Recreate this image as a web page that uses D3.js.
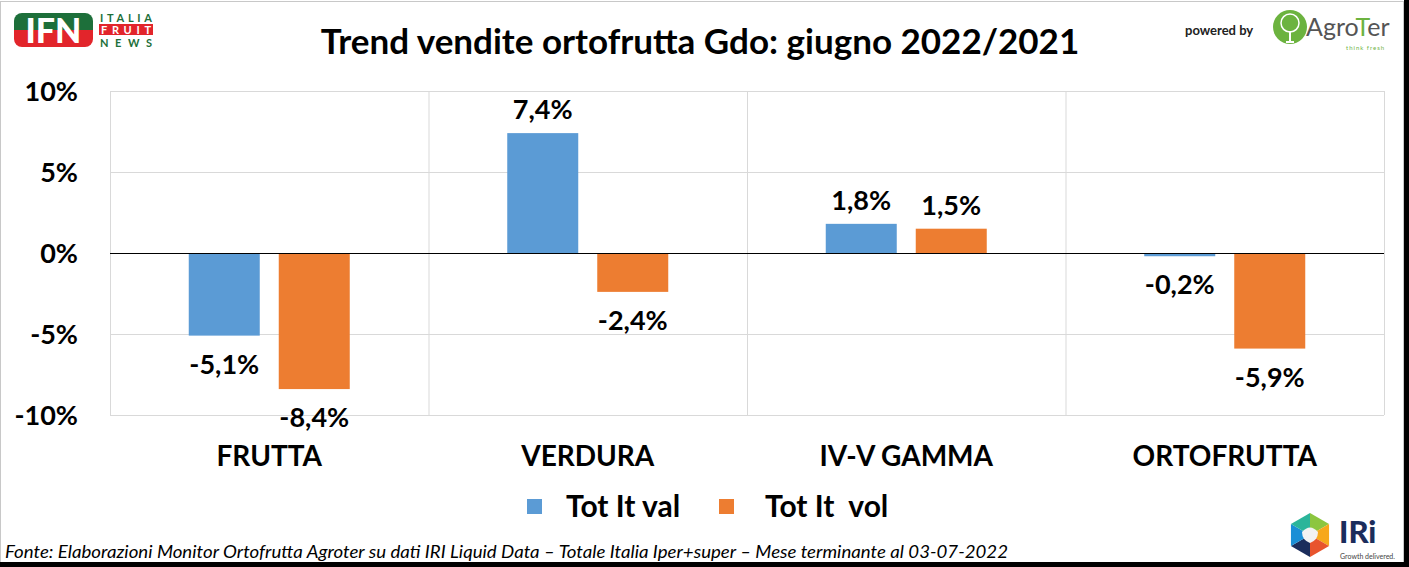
<!DOCTYPE html>
<meta charset="utf-8">
<script src="https://d3js.org/d3.v7.min.js"></script>
<style>
  body { margin: 0; background: #fff; }
  text { font-family: Lato, "Open Sans", sans-serif; }
</style>
<div id="chart"></div>
<script>
    // data
    const categories = ["FRUTTA", "VERDURA", "IV-V GAMMA", "ORTOFRUTTA"];
    const seriesNames = ["Tot It val", "Tot It  vol"];
    const totVal = [-5.1, 7.4, 1.8, -0.2];
    const totVol = [-8.4, -2.4, 1.5, -5.9];
    const yTicks = [-10, -5, 0, 5, 10];
    const colors = ["#5b9bd5", "#ed7d31"];

    const width = 1409, height = 567;
    const marginTop = 91, marginBottom = 152, marginLeft = 110, marginRight = 25;

    const svg = d3.select("#chart").append("svg")
        .attr("width", width)
        .attr("height", height)
        .attr("viewBox", [0, 0, width, height]);

    // frame
    svg.append("rect").attr("x", 0.5).attr("y", 1.5).attr("width", 1403).attr("height", 561)
        .attr("fill", "#fff").attr("stroke", "#c8c8c8");
    svg.append("rect").attr("x", 1404).attr("y", 0).attr("width", 5).attr("height", height).attr("fill", "#000");
    svg.append("rect").attr("x", 0).attr("y", 562).attr("width", width).attr("height", 5).attr("fill", "#000");

    const x = d3.scaleBand()
        .domain(categories)
        .range([marginLeft, width - marginRight]);

    const xSub = d3.scaleBand()
        .domain([0, 1])
        .range([0, x.bandwidth()])
        .paddingInner(19 / 90)
        .paddingOuter(0.875);

    const y = d3.scaleLinear()
        .domain([-10, 10])
        .range([height - marginBottom, marginTop]);

    // horizontal grid
    svg.append("g")
        .selectAll("line")
        .data(yTicks.filter(d => d !== 0))
        .join("line")
        .attr("x1", marginLeft).attr("x2", width - marginRight)
        .attr("y1", d => y(d) + 0.5).attr("y2", d => y(d) + 0.5)
        .attr("stroke", "#d9d9d9");

    // vertical separators
    svg.append("g")
        .selectAll("line")
        .data(categories.concat(["end"]))
        .join("line")
        .attr("x1", (d, i) => i < categories.length ? x(d) + 0.5 : x.range()[1] + 0.5)
        .attr("x2", (d, i) => i < categories.length ? x(d) + 0.5 : x.range()[1] + 0.5)
        .attr("y1", y(10)).attr("y2", y(-10))
        .attr("stroke", "#d9d9d9");

    // y axis labels
    svg.append("g")
        .selectAll("text")
        .data(yTicks)
        .join("text")
        .attr("x", 78)
        .attr("y", d => y(d))
        .attr("dy", "0.36em")
        .attr("text-anchor", "end")
        .attr("font-size", 27)
        .attr("font-weight", "bold")
        .text(d => d + "%");

    // bars
    const rows = categories.map((c, i) => ({ cat: c, values: [totVal[i], totVol[i]] }));

    const groups = svg.append("g")
        .selectAll("g")
        .data(rows)
        .join("g")
        .attr("transform", d => `translate(${x(d.cat)},0)`);

    groups.selectAll("rect")
        .data(d => d.values.map((v, k) => ({ v, k })))
        .join("rect")
        .attr("x", d => xSub(d.k))
        .attr("width", xSub.bandwidth())
        .attr("y", d => y(Math.max(0, d.v)))
        .attr("height", d => Math.abs(y(d.v) - y(0)))
        .attr("fill", d => colors[d.k]);

    groups.selectAll("text")
        .data(d => d.values.map((v, k) => ({ v, k })))
        .join("text")
        .attr("x", d => xSub(d.k) + xSub.bandwidth() / 2)
        .attr("y", d => d.v >= 0 ? y(d.v) - 14 : y(d.v) + 38)
        .attr("text-anchor", "middle")
        .attr("font-size", 27)
        .attr("font-weight", "bold")
        .text(d => d3.format(".1f")(d.v).replace(".", ",").replace("−", "-") + "%");

    // zero line
    svg.append("line")
        .attr("x1", marginLeft).attr("x2", width - marginRight)
        .attr("y1", y(0) + 0.5).attr("y2", y(0) + 0.5)
        .attr("stroke", "#000");

    // category labels
    svg.append("g")
        .selectAll("text")
        .data(categories)
        .join("text")
        .attr("x", d => x(d) + x.bandwidth() / 2)
        .attr("y", 466)
        .attr("text-anchor", "middle")
        .attr("font-size", 28)
        .attr("font-weight", "bold")
        .text(d => d);

    // title
    svg.append("text")
        .attr("x", 700).attr("y", 54)
        .attr("text-anchor", "middle")
        .attr("font-size", 35)
        .attr("font-weight", "bold")
        .text("Trend vendite ortofrutta Gdo: giugno 2022/2021");

    // legend
    const legendX = [527, 719];
    const legendGap = [39, 46];
    const legend = svg.append("g")
        .selectAll("g")
        .data(seriesNames)
        .join("g")
        .attr("transform", (d, i) => `translate(${legendX[i]},499)`);
    legend.append("rect").attr("width", 15).attr("height", 15).attr("fill", (d, i) => colors[i]);
    legend.append("text")
        .attr("x", (d, i) => legendGap[i]).attr("y", 18)
        .attr("font-size", 30)
        .attr("font-weight", "bold")
        .style("white-space", "pre")
        .text(d => d);

    // footer
    svg.append("text")
        .attr("x", 5).attr("y", 558)
        .attr("font-size", 17)
        .attr("font-style", "italic")
        .attr("textLength", 1003)
        .attr("lengthAdjust", "spacingAndGlyphs")
        .text("Fonte: Elaborazioni Monitor Ortofrutta Agroter su dati IRI Liquid Data – Totale Italia Iper+super – Mese terminante al 03-07-2022");

    // IFN logo
    const ifn = svg.append("g").attr("transform", "translate(14,13)");
    ifn.append("clipPath").attr("id", "ifnclip")
        .append("rect").attr("width", 79).attr("height", 34).attr("rx", 8);
    const ifnBg = ifn.append("g").attr("clip-path", "url(#ifnclip)");
    ifnBg.append("rect").attr("width", 79).attr("height", 17).attr("fill", "#1d6f3a");
    ifnBg.append("rect").attr("y", 17).attr("width", 79).attr("height", 17).attr("fill", "#e2252b");
    ifn.append("text").attr("x", 39.5).attr("y", 30).attr("text-anchor", "middle")
        .attr("font-size", 34).attr("font-weight", 900)
        .attr("fill", "#fff").text("IFN");
    ifn.append("text").attr("x", 86).attr("y", 9).attr("font-size", 11).attr("font-weight", "bold")
        .attr("fill", "#1d6f3a").attr("textLength", 52).text("ITALIA");
    ifn.append("rect").attr("x", 85).attr("y", 11).attr("width", 54).attr("height", 11).attr("fill", "#e2252b");
    ifn.append("text").attr("x", 87).attr("y", 21).attr("font-size", 11).attr("font-weight", "bold")
        .attr("fill", "#fff").attr("textLength", 50).text("FRUIT");
    ifn.append("text").attr("x", 86).attr("y", 34).attr("font-size", 11).attr("font-weight", "bold")
        .attr("fill", "#1d6f3a").attr("textLength", 52).text("NEWS");

    // AgroTer logo
    svg.append("text").attr("x", 1185).attr("y", 35).attr("font-size", 13).attr("font-weight", "bold")
        .attr("fill", "#222").text("powered by");
    const agro = svg.append("g").attr("transform", "translate(1290,27)");
    agro.append("circle").attr("r", 17).attr("fill", "#6cb33f");
    agro.append("circle").attr("cy", -4).attr("r", 9).attr("fill", "none").attr("stroke", "#fff").attr("stroke-width", 1.5);
    agro.append("path").attr("d", "M0,4 L0,14 M-4,15 L4,15").attr("stroke", "#fff").attr("stroke-width", 2);
    agro.append("text").attr("x", 16).attr("y", 9).attr("font-size", 25).attr("fill", "#555")
        .html('Agro<tspan fill="#6cb33f">T</tspan>er');
    agro.append("text").attr("x", 56).attr("y", 23).attr("font-size", 6).attr("fill", "#6cb33f")
        .attr("letter-spacing", 1).text("think fresh");

    // IRi logo
    const iri = svg.append("g").attr("transform", "translate(1310,535)");
    const hexColors = ["#8cc63f", "#f7a81b", "#e8542d", "#1b2d5c", "#1a8fd6", "#2bb59a"];
    const r = 22;
    hexColors.forEach((c, i) => {
        const a0 = (-90 + i * 60) * Math.PI / 180, a1 = (-30 + i * 60) * Math.PI / 180;
        iri.append("path")
            .attr("d", `M0,0 L${r * Math.cos(a0)},${r * Math.sin(a0)} L${r * Math.cos(a1)},${r * Math.sin(a1)}Z`)
            .attr("fill", c);
    });
    iri.append("path").attr("d", "M-8,-3 Q0,-12 8,-3 Q8,5 0,8 Q-8,5 -8,-3Z").attr("fill", "#f2f2f2");
    svg.append("text").attr("x", 1339).attr("y", 543).attr("font-size", 31).attr("font-weight", 900)
        .attr("fill", "#1b2d5c").text("IRi");
    svg.append("text").attr("x", 1340).attr("y", 559).attr("font-size", 7).attr("fill", "#444")
        .text("Growth delivered.");
</script>
